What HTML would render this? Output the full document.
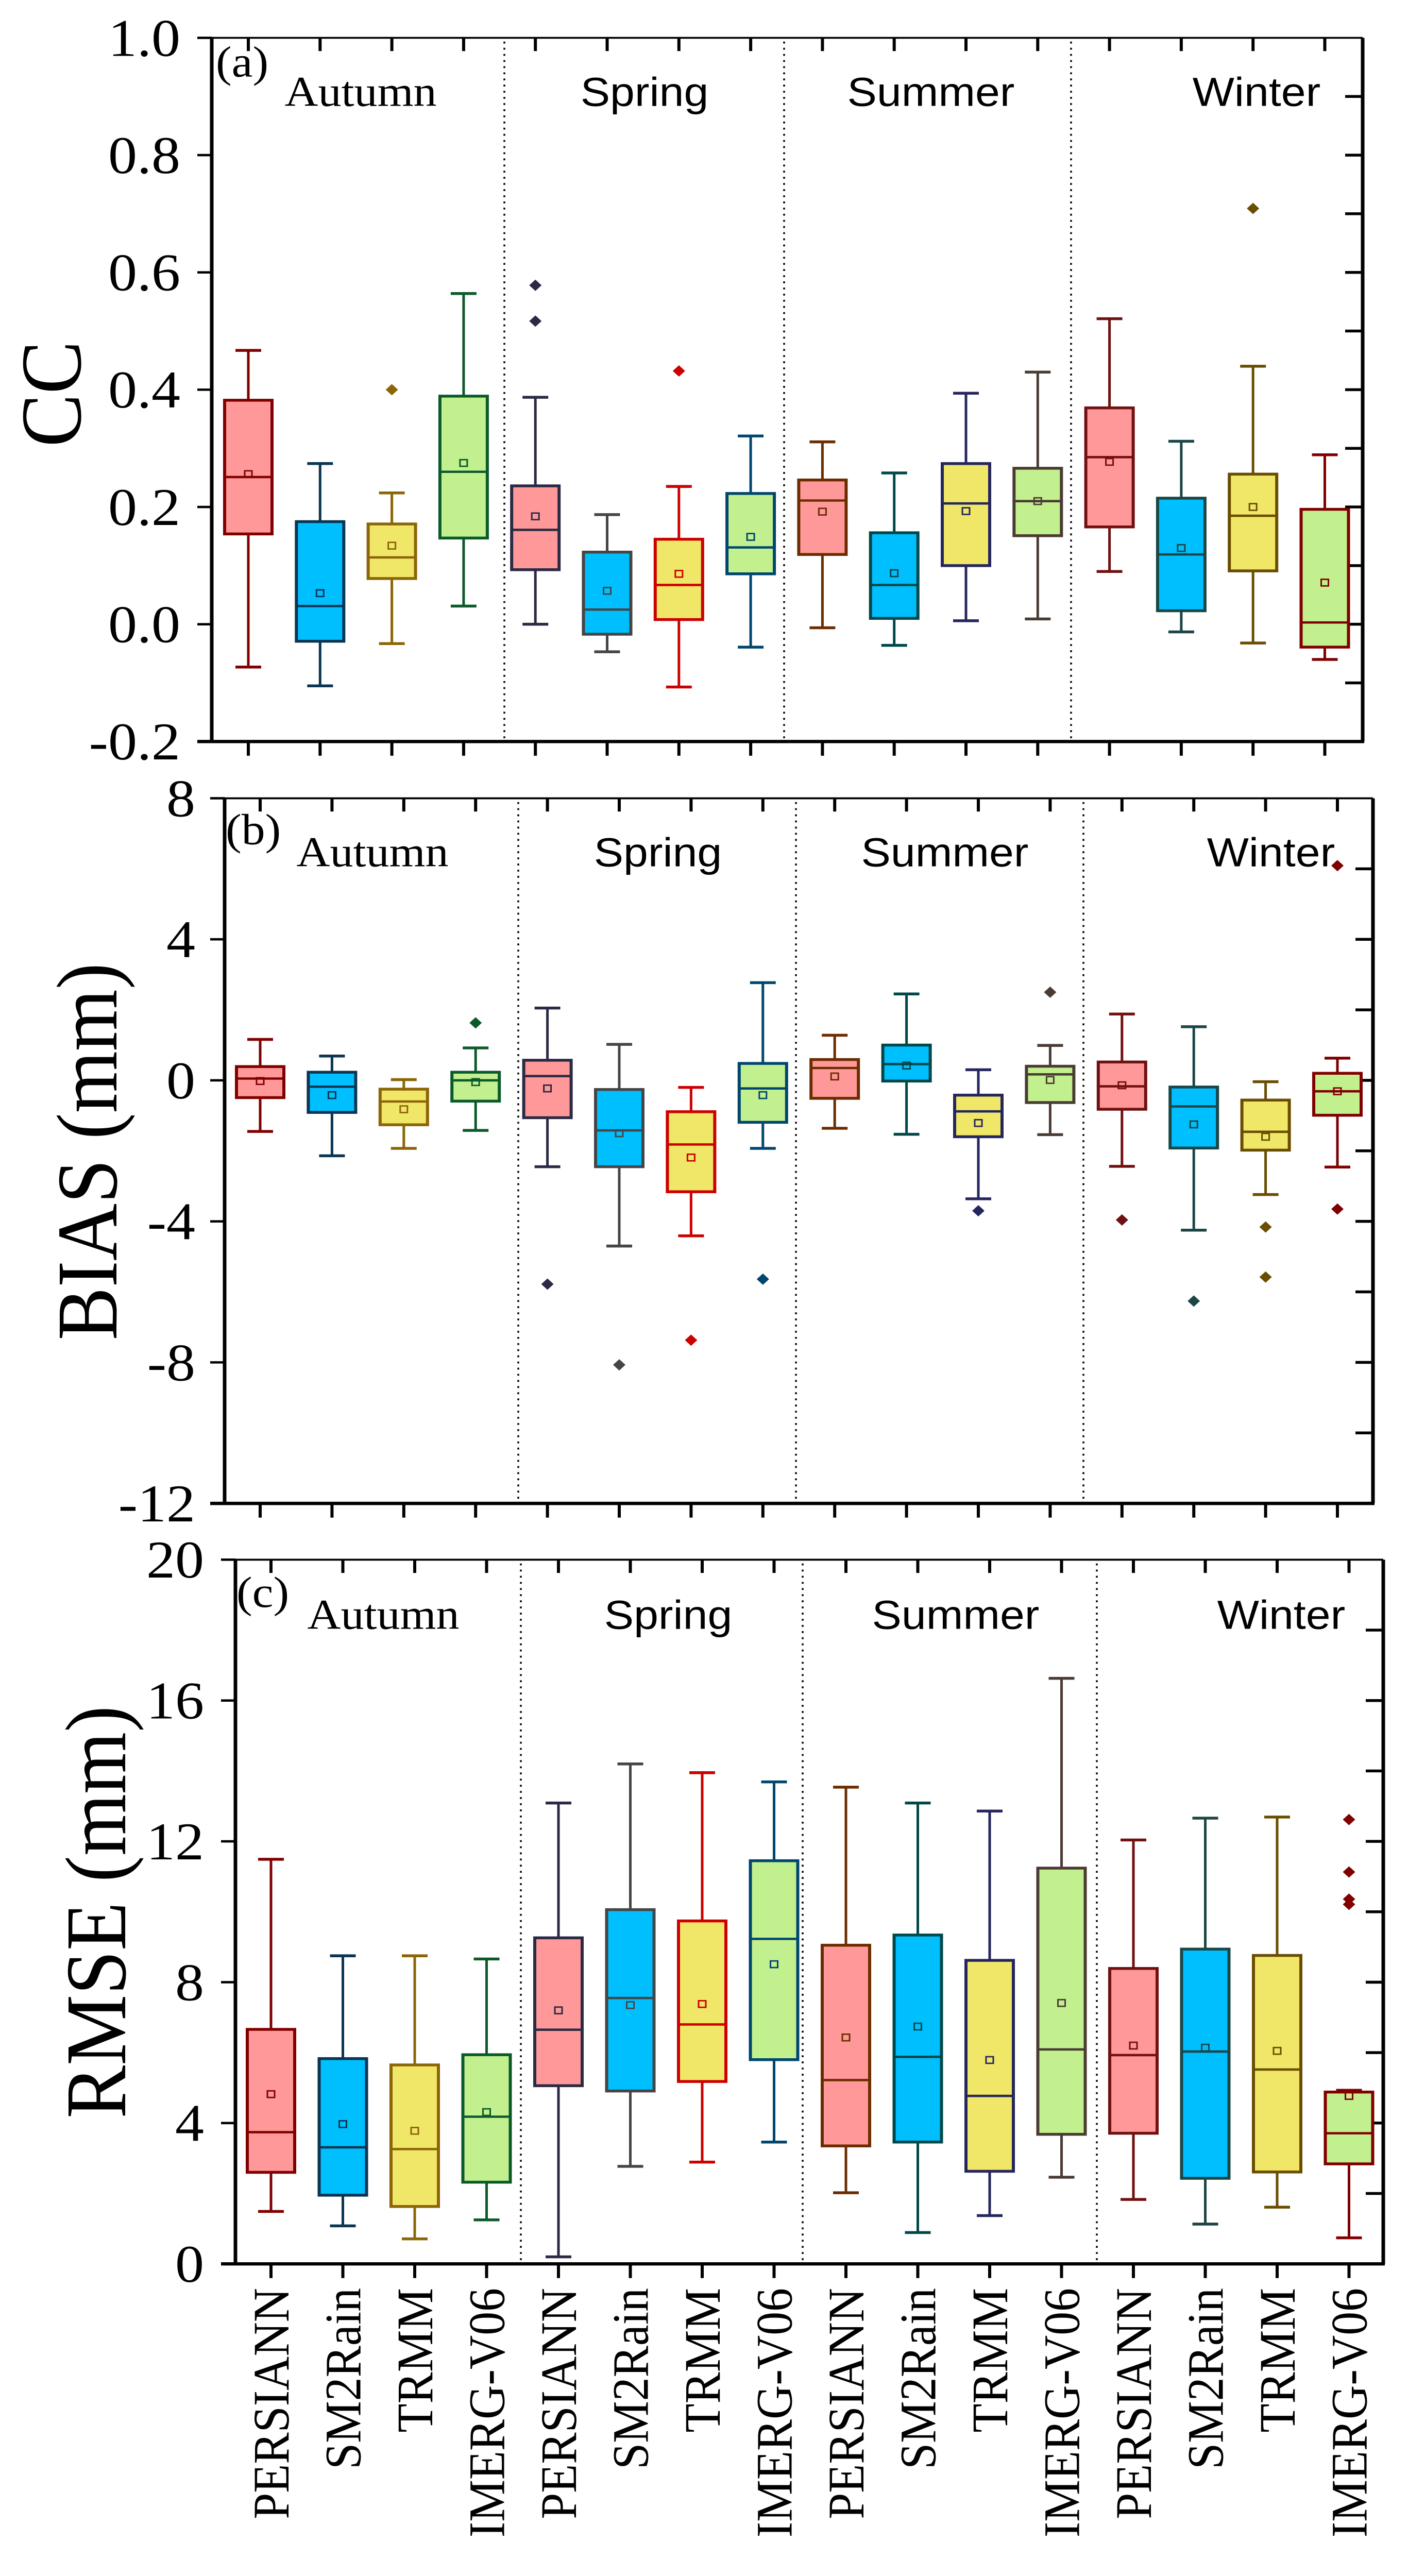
<!DOCTYPE html>
<html><head><meta charset="utf-8"><title>Seasonal box plots: CC, BIAS, RMSE by precipitation product</title>
<style>
html,body{margin:0;padding:0;background:#fff;overflow:hidden;}
svg{display:block;position:absolute;left:0;top:0;width:100vw;height:100vh;}
</style></head>
<body>
<svg id="chart" xmlns="http://www.w3.org/2000/svg" viewBox="0 0 2733 5447" preserveAspectRatio="none"></svg>
<script>
// ---------- data ----------
const categories = ["PERSIANN","SM2Rain","TRMM","IMERG-V06","PERSIANN","SM2Rain","TRMM","IMERG-V06","PERSIANN","SM2Rain","TRMM","IMERG-V06","PERSIANN","SM2Rain","TRMM","IMERG-V06"];
const seasons = ["Autumn","Spring","Summer","Winter"];

// CC
const ccHi   = [0.467,0.274,0.224,0.564, 0.387,0.187,0.235,0.321, 0.311,0.258,0.394,0.430, 0.521,0.312,0.440,0.289];
const ccQ3   = [0.382,0.175,0.171,0.389, 0.236,0.123,0.145,0.223, 0.246,0.156,0.274,0.266, 0.369,0.215,0.256,0.196];
const ccMed  = [0.251,0.031,0.114,0.260, 0.161,0.025,0.067,0.131, 0.211,0.067,0.206,0.210, 0.285,0.119,0.185,0.003];
const ccQ1   = [0.154,-0.029,0.078,0.147, 0.093,-0.017,0.008,0.086, 0.119,0.010,0.100,0.151, 0.166,0.023,0.091,-0.039];
const ccLo   = [-0.073,-0.105,-0.033,0.031, 0.000,-0.047,-0.107,-0.039, -0.006,-0.036,0.006,0.009, 0.090,-0.013,-0.032,-0.060];
const ccMean = [0.256,0.053,0.134,0.275, 0.184,0.057,0.086,0.149, 0.192,0.087,0.193,0.210, 0.277,0.130,0.200,0.071];
const ccOut  = [[],[],[0.40],[], [0.578,0.517],[],[0.432],[], [],[],[],[], [],[],[0.709],[]];
const ccTicks = [-0.2,0.0,0.2,0.4,0.6,0.8,1.0];
const ccTickLabels = ["-0.2","0.0","0.2","0.4","0.6","0.8","1.0"];

// BIAS
const biasHi   = [1.16,0.69,0.02,0.92, 2.05,1.02,-0.20,2.77, 1.28,2.45,0.30,0.99, 1.88,1.52,-0.04,0.63];
const biasQ3   = [0.39,0.23,-0.25,0.23, 0.57,-0.26,-0.89,0.48, 0.59,1.00,-0.42,0.40, 0.52,-0.19,-0.56,0.20];
const biasMed  = [0.05,-0.18,-0.60,0.00, 0.12,-1.42,-1.82,-0.23, 0.35,0.46,-0.88,0.17, -0.17,-0.74,-1.46,-0.31];
const biasQ1   = [-0.49,-0.91,-1.26,-0.59, -1.06,-2.45,-3.16,-1.19, -0.51,-0.02,-1.60,-0.63, -0.82,-1.92,-1.98,-0.99];
const biasLo   = [-1.45,-2.14,-1.93,-1.42, -2.45,-4.70,-4.41,-1.93, -1.36,-1.53,-3.36,-1.54, -2.44,-4.25,-3.24,-2.46];
const biasMean = [-0.02,-0.42,-0.82,-0.05, -0.23,-1.50,-2.19,-0.42, 0.11,0.42,-1.21,0.01, -0.14,-1.25,-1.60,-0.31];
const biasOut  = [[],[],[],[1.63], [-5.78],[-8.07],[-7.37],[-5.64], [],[],[-3.70],[2.50], [-3.96],[-6.26],[-4.16,-5.58],[-3.65,6.09]];
const biasTicks = [-12,-8,-4,0,4,8];
const biasTickLabels = ["-12","-8","-4","0","4","8"];

// RMSE
const rmseHi   = [11.49,8.75,8.75,8.66, 13.09,14.20,13.95,13.69, 13.54,13.09,12.86,16.63, 12.04,12.66,12.69,4.93];
const rmseQ3   = [6.66,5.83,5.65,5.94, 9.26,10.06,9.74,11.45, 9.05,9.34,8.62,11.24, 8.39,8.94,8.76,4.88];
const rmseMed  = [3.74,3.31,3.26,4.18, 6.65,7.55,6.80,9.23, 5.22,5.88,4.77,6.09, 5.93,6.03,5.52,3.71];
const rmseQ1   = [2.60,1.95,1.63,2.32, 5.06,4.91,5.18,5.80, 3.35,3.46,2.63,3.68, 3.71,2.43,2.61,2.84];
const rmseLo   = [1.49,1.08,0.71,1.25, 0.20,2.77,2.89,3.46, 2.02,0.89,1.37,2.46, 1.83,1.13,1.61,0.74];
const rmseMean = [4.82,3.97,3.78,4.31, 7.20,7.35,7.38,8.51, 6.43,6.74,5.79,7.41, 6.20,6.14,6.05,4.77];
const rmseOut  = [[],[],[],[], [],[],[],[], [],[],[],[], [],[],[],[12.62,11.13,10.36,10.21]];
const rmseTicks = [0,4,8,12,16,20];
const rmseTickLabels = ["0","4","8","12","16","20"];

// ---------- style ----------
const fills = ["#FF9999","#00BFFF","#F0E768","#C3F08F"];
const strokes = ["#800000","#0B3552","#8B6508","#0B5A2A","#2A2A44","#454545","#CC0000","#00466E","#6B2C00","#004848","#26265E","#4A3B33","#701010","#1B4646","#6A4D00","#800000"];
const NS = "http://www.w3.org/2000/svg";
const svg = document.getElementById("chart");
function mk(tag, attrs, parent){
  const e = document.createElementNS(NS, tag);
  for (const k in attrs) e.setAttribute(k, attrs[k]);
  (parent||svg).appendChild(e);
  return e;
}

const panels = [
  {key:"cc", letter:"(a)", title:"CC", left:411, right:2645, top:80, bottom:1568, min:-0.2, max:1.0, first:482, step:139.3, minor:0.1,
   hi:ccHi,q3:ccQ3,med:ccMed,q1:ccQ1,lo:ccLo,mean:ccMean,out:ccOut,ticks:ccTicks,tickLabels:ccTickLabels,
   labelRight:350, titleX:100, titleY:833, letterX:419, letterY:162, seasonY:224, seasonX:[700,1251,1807,2439], seps:[979,1522,2079]},
  {key:"bias", letter:"(b)", title:"BIAS (mm)", left:436, right:2665, top:1688, bottom:3179, min:-12, max:8, first:505, step:139.4, minor:2,
   hi:biasHi,q3:biasQ3,med:biasMed,q1:biasQ1,lo:biasLo,mean:biasMean,out:biasOut,ticks:biasTicks,tickLabels:biasTickLabels,
   labelRight:379, titleX:170, titleY:2435, letterX:438, letterY:1785, seasonY:1832, seasonX:[723,1277,1834,2467], seps:[1006,1545,2103]},
  {key:"rmse", letter:"(c)", title:"RMSE (mm)", left:457, right:2685, top:3298, bottom:4787, min:0, max:20, first:526, step:139.5, minor:2,
   hi:rmseHi,q3:rmseQ3,med:rmseMed,q1:rmseQ1,lo:rmseLo,mean:rmseMean,out:rmseOut,ticks:rmseTicks,tickLabels:rmseTickLabels,
   labelRight:396, titleX:187, titleY:4043, letterX:459, letterY:3398, seasonY:3444, seasonX:[744,1297,1855,2487], seps:[1011,1558,2129]}
];

panels.forEach(function(p){
  const g = mk("g", {});
  
  
  const y = v => p.bottom - (v - p.min) / (p.max - p.min) * (p.bottom - p.top);
  const x = i => p.first + i * p.step;

  p.seps.forEach(function(sx){
    const l = mk("line", {x1:sx, y1:p.top+8, x2:sx, y2:p.bottom-4, stroke:"#000", "stroke-width":3.5, "stroke-dasharray":"4 9"}, g);
    
    
  });

  for (let v = p.min + p.minor; v < p.max - 1e-9; v += p.minor) {
    const t = mk("line", {x1:p.right-34, y1:y(v), x2:p.right, y2:y(v), stroke:"#000", "stroke-width":6}, g);
    
    
  }

  for (let i = 0; i < categories.length; i++) {
    const cx = x(i), col = strokes[i], fill = fills[i % 4], bw = 92, cw = 50;
    const bg = mk("g", {}, g);
    
    
    mk("line", {x1:cx, y1:y(p.hi[i]), x2:cx, y2:y(p.q3[i]), stroke:col, "stroke-width":5}, bg);
    mk("line", {x1:cx, y1:y(p.q1[i]), x2:cx, y2:y(p.lo[i]), stroke:col, "stroke-width":5}, bg);
    mk("line", {x1:cx-cw/2, y1:y(p.hi[i]), x2:cx+cw/2, y2:y(p.hi[i]), stroke:col, "stroke-width":6}, bg);
    mk("line", {x1:cx-cw/2, y1:y(p.lo[i]), x2:cx+cw/2, y2:y(p.lo[i]), stroke:col, "stroke-width":6}, bg);
    mk("rect", {x:cx-bw/2, y:y(p.q3[i]), width:bw, height:Math.max(1, y(p.q1[i]) - y(p.q3[i])), fill:fill, stroke:col, "stroke-width":6}, bg);
    mk("line", {x1:cx-bw/2, y1:y(p.med[i]), x2:cx+bw/2, y2:y(p.med[i]), stroke:col, "stroke-width":5}, bg);
    mk("rect", {x:cx-7, y:y(p.mean[i])-7, width:14, height:14, fill:"none", stroke:col, "stroke-width":3}, bg);
    p.out[i].forEach(function(v){
      const d = mk("path", {d:"M"+cx+" "+(y(v)-12)+" L"+(cx+12)+" "+y(v)+" L"+cx+" "+(y(v)+12)+" L"+(cx-12)+" "+y(v)+" Z", fill:col}, bg);
      
      
    });
  }

  mk("line", {x1:p.left, y1:p.top, x2:p.right, y2:p.top, stroke:"#000", "stroke-width":4}, g);
  mk("line", {x1:p.right, y1:p.top, x2:p.right, y2:p.bottom, stroke:"#000", "stroke-width":7}, g);
  const ax = mk("line", {x1:p.left, y1:p.top, x2:p.left, y2:p.bottom+3, stroke:"#000", "stroke-width":7}, g);
  
  
  const bx = mk("line", {x1:p.left-28, y1:p.bottom, x2:p.right+3, y2:p.bottom, stroke:"#000", "stroke-width":7}, g);
  
  

  for (let i = 0; i < categories.length; i++) {
    mk("line", {x1:x(i), y1:p.top, x2:x(i), y2:p.top+28, stroke:"#000", "stroke-width":6}, g);
    mk("line", {x1:x(i), y1:p.bottom, x2:x(i), y2:p.bottom+30, stroke:"#000", "stroke-width":6}, g);
  }

  p.ticks.forEach(function(v, k){
    mk("line", {x1:p.left-28, y1:y(v), x2:p.left, y2:y(v), stroke:"#000", "stroke-width":5}, g);
    const t = mk("text", {x:p.labelRight, y:y(v)+38, "text-anchor":"end", "font-family":"'Liberation Serif', serif", "font-size":112, fill:"#000"}, g);
    t.textContent = p.tickLabels[k];
    
    
  });

  const tt = mk("text", {x:0, y:0, transform:"translate("+(p.titleX+56)+","+p.titleY+") rotate(-90)", "text-anchor":"middle", "font-family":"'Liberation Serif', serif", "font-size":168, fill:"#000"}, g);
  tt.textContent = p.title;
  
  

  const pl = mk("text", {x:p.letterX, y:p.letterY, "font-family":"'Liberation Serif', serif", "font-size":92, fill:"#000"}, g);
  pl.textContent = p.letter;
  
  

  seasons.forEach(function(s, k){
    const serif = (k === 0);
    const st = mk("text", {x:p.seasonX[k], y:p.seasonY, "text-anchor":"middle", "font-family": serif ? "'Liberation Serif', serif" : "'Liberation Sans', sans-serif", "font-size": serif ? 90 : 86, fill:"#000"}, g);
    st.textContent = s;
    
    
  });

  if (p.key === "rmse") {
    for (let i = 0; i < categories.length; i++) {
      const c = mk("text", {x:0, y:0, transform:"translate("+(x(i)+34)+",4838) rotate(-90)", "text-anchor":"end", "font-family":"'Liberation Serif', serif", "font-size":100, fill:"#000"}, g);
      c.textContent = categories[i];
      
      
    }
  }
});
</script>
</body></html>
